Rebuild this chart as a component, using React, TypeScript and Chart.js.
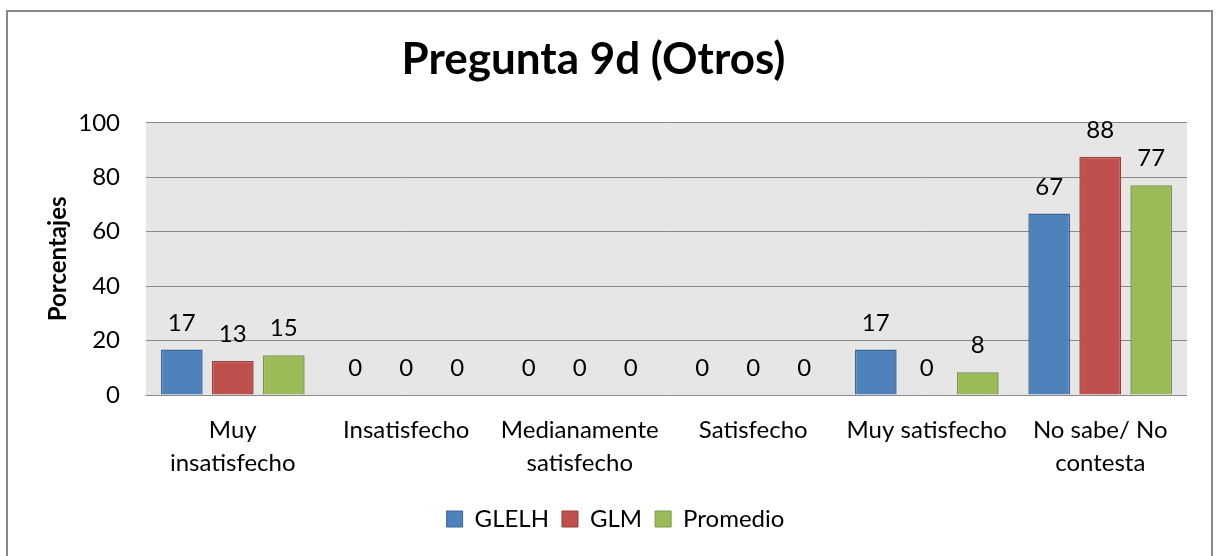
import React, { useEffect, useRef } from "react";
import { Chart, registerables } from "chart.js";

Chart.register(...registerables);

const categories: (string | string[])[] = [
  ["Muy", "insatisfecho"],
  "Insatisfecho",
  ["Medianamente", "satisfecho"],
  "Satisfecho",
  "Muy satisfecho",
  ["No sabe/ No", "contesta"],
];
const glelh = [16.67, 0, 0, 0, 16.67, 66.67];
const glm = [12.5, 0, 0, 0, 0, 87.5];
const promedio = [14.58, 0, 0, 0, 8.33, 77.08];
const yTicks = [0, 20, 40, 60, 80, 100];

const FONT = "Lato, 'Open Sans', sans-serif";

const framePlugin = {
  id: "frame",
  beforeDraw(chart: any) {
    const { ctx, chartArea } = chart;
    ctx.save();
    ctx.fillStyle = "#ffffff";
    ctx.fillRect(0, 0, chart.width, chart.height);
    ctx.strokeStyle = "#898989";
    ctx.lineWidth = 2;
    ctx.strokeRect(7, 11, 1205, 600);
    ctx.fillStyle = "#E6E6E6";
    ctx.fillRect(chartArea.left, chartArea.top, chartArea.right - chartArea.left, chartArea.bottom - chartArea.top);
    ctx.restore();
  },
};

const legendShiftPlugin = {
  id: "legendShift",
  afterLayout(chart: any) {
    const lg = chart.legend;
    if (lg) {
      lg.left += 22;
      lg.right += 22;
    }
  },
};

const labelPlugin = {
  id: "valueLabels",
  afterDatasetsDraw(chart: any) {
    const { ctx } = chart;
    ctx.save();
    ctx.font = `24px ${FONT}`;
    ctx.fillStyle = "#000";
    ctx.textAlign = "center";
    ctx.textBaseline = "alphabetic";
    chart.data.datasets.forEach((ds: any, i: number) => {
      const meta = chart.getDatasetMeta(i);
      meta.data.forEach((el: any, j: number) => {
        ctx.fillText(String(Math.round(ds.data[j])), el.x, el.y - 19);
      });
    });
    ctx.restore();
  },
};

export default function App() {
  const ref = useRef<HTMLCanvasElement | null>(null);
  useEffect(() => {
    if (!ref.current) return;
    const mk = (label: string, data: number[], bg: string, bd: string) => ({
      label,
      data,
      backgroundColor: bg,
      borderColor: bd,
      borderWidth: 1.5,
      categoryPercentage: 0.882,
      barPercentage: 0.82,
    });
    const chart = new Chart(ref.current, {
      type: "bar",
      data: {
        labels: categories,
        datasets: [
          mk("GLELH", glelh, "#4F81BD", "#3A6699"),
          mk("GLM", glm, "#C0504D", "#983E3B"),
          mk("Promedio", promedio, "#9BBB59", "#7A9745"),
        ],
      },
      options: {
        animation: false,
        responsive: true,
        maintainAspectRatio: false,
        layout: { padding: { left: 0, right: 31, top: 0, bottom: 15 } },
        plugins: {
          title: {
            display: true,
            text: "Pregunta 9d (Otros)",
            color: "#000",
            font: { family: FONT, size: 44, weight: "bold" },
            padding: { top: 33, bottom: 37 },
          },
          legend: {
            position: "bottom",
            labels: {
              color: "#000",
              font: { family: FONT, size: 24 },
              boxWidth: 16,
              boxHeight: 16,
              padding: 13,
              generateLabels: (chart: any) =>
                chart.data.datasets.map((ds: any, i: number) => ({
                  text: ds.label,
                  fillStyle: ds.backgroundColor,
                  strokeStyle: ds.borderColor,
                  lineWidth: 1,
                  datasetIndex: i,
                  fontColor: "#000",
                })),
            },
          },
          tooltip: { enabled: false },
        },
        scales: {
          x: {
            grid: { display: false },
            border: { display: false },
            ticks: {
              color: "#000",
              font: { family: FONT, size: 24, lineHeight: 1.4 },
              padding: 10,
              maxRotation: 0,
              autoSkip: false,
            },
            afterFit: (s: any) => {
              s.height = 99;
            },
          },
          y: {
            min: 0,
            max: 100,
            afterBuildTicks: (s: any) => {
              s.ticks = yTicks.map((v) => ({ value: v }));
            },
            grid: { color: "#898989", lineWidth: 1, drawTicks: false },
            border: { display: false },
            ticks: {
              color: "#000",
              font: { family: FONT, size: 24 },
              padding: 26,
            },
            title: {
              display: true,
              text: "Porcentajes",
              color: "#000",
              font: { family: FONT, size: 24, weight: "bold" },
              padding: { top: 44, bottom: 0 },
            },
            afterFit: (s: any) => {
              s.width = 146;
            },
          },
        },
      },
      plugins: [framePlugin, legendShiftPlugin, labelPlugin],
    });
    return () => chart.destroy();
  }, []);
  return (
    <div style={{ position: "absolute", left: 0, top: 0, width: 1218, height: 556 }}>
      <canvas ref={ref} />
    </div>
  );
}
